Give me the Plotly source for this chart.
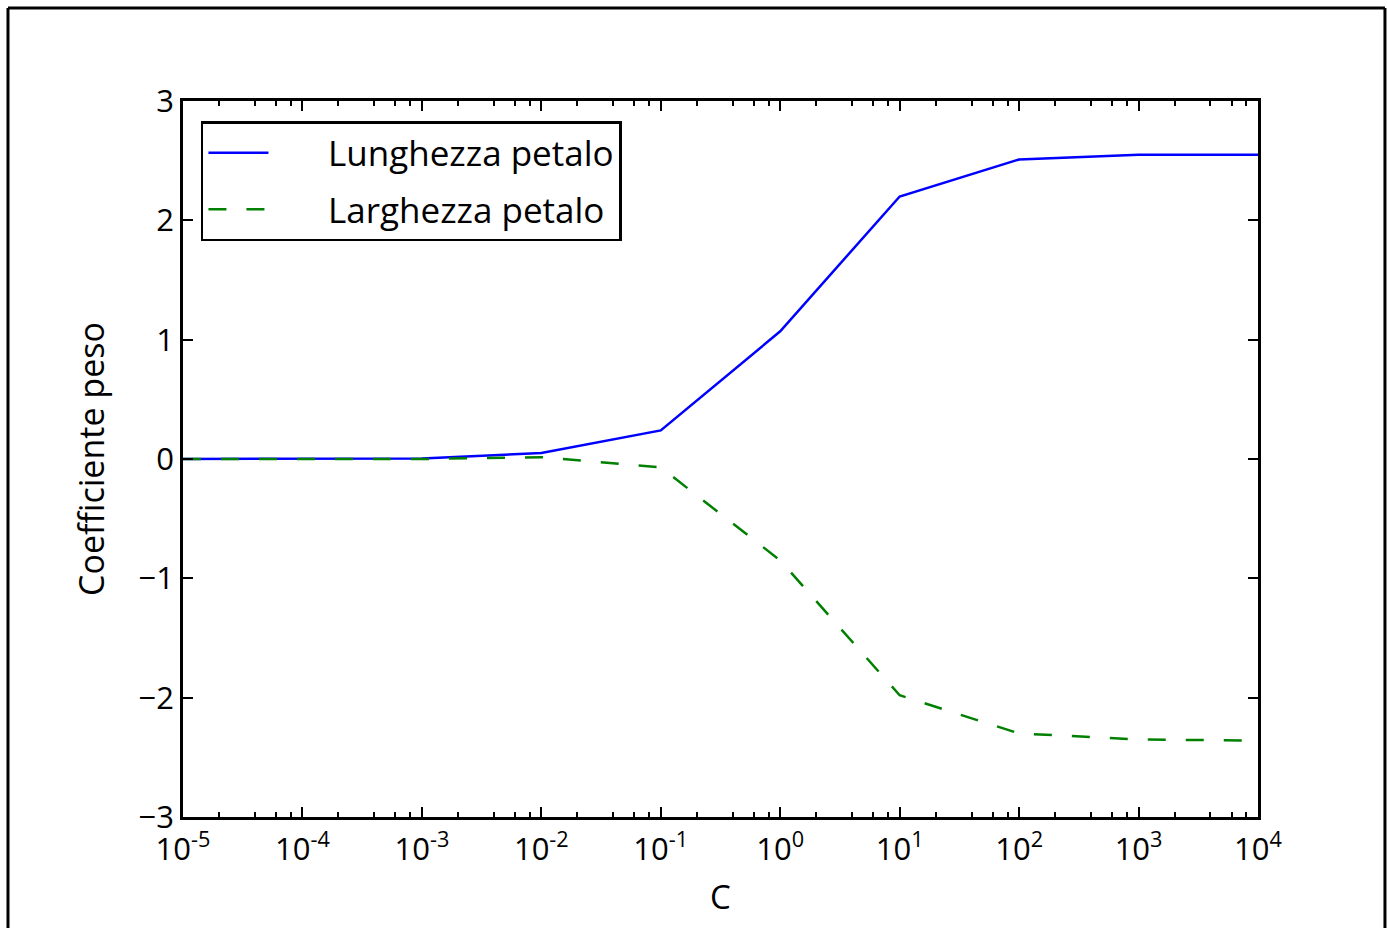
import plotly.graph_objects as go

C_values = [1e-5, 1e-4, 1e-3, 1e-2, 1e-1, 1e0, 1e1, 1e2, 1e3, 1e4]
lunghezza = [0.0, 0.0, 0.005, 0.05, 0.24, 1.07, 2.20, 2.51, 2.55, 2.55]
larghezza = [0.0, 0.0, 0.0, 0.015, -0.07, -0.85, -1.98, -2.30, -2.35, -2.36]

x_tick_vals = [1e-5, 1e-4, 1e-3, 1e-2, 1e-1, 1e0, 1e1, 1e2, 1e3, 1e4]
x_tick_text = ["10<sup>-5</sup>", "10<sup>-4</sup>", "10<sup>-3</sup>", "10<sup>-2</sup>",
               "10<sup>-1</sup>", "10<sup>0</sup>", "10<sup>1</sup>", "10<sup>2</sup>",
               "10<sup>3</sup>", "10<sup>4</sup>"]
y_tick_vals = [-3, -2, -1, 0, 1, 2, 3]
y_tick_text = ["\u22123", "\u22122", "\u22121", "0", "1", "2", "3"]

minor_vals = [d * m for d in x_tick_vals[:-1] for m in (2, 4, 6, 8)]

FONT = "Open Sans, DejaVu Sans, sans-serif"
PAD = "\u00a0\u00a0\u00a0\u00a0\u00a0\u00a0"

fig = go.Figure()
fig.add_trace(go.Scatter(x=C_values, y=lunghezza, mode="lines", name=PAD + "Lunghezza petalo",
                         line=dict(color="#0000ff", width=2.5), legendgroup="a"))
fig.add_trace(go.Scatter(x=C_values, y=larghezza, mode="lines", name=PAD + "Larghezza petalo",
                         line=dict(color="#008000", width=2.5, dash="18px,20px"), legendgroup="b"))

axis_common = dict(showgrid=False, zeroline=False, showline=True, linecolor="black", linewidth=2.5,
                   mirror="ticks", ticks="inside", ticklen=10, tickwidth=1.5, tickcolor="black",
                   tickfont=dict(family=FONT, size=31, color="black"))

fig.update_xaxes(type="log", range=[-5, 4], tickmode="array", tickvals=x_tick_vals, ticktext=x_tick_text,
                 minor=dict(tickmode="array", tickvals=minor_vals, ticks="inside", ticklen=5,
                            tickwidth=1.5, tickcolor="black", showgrid=False),
                 title=dict(text="C", font=dict(family=FONT, size=33, color="black"), standoff=18),
                 ticklabelstandoff=3,
                 **axis_common)
fig.update_yaxes(range=[-3, 3], tickmode="array", tickvals=y_tick_vals, ticktext=y_tick_text,
                 title=dict(text="Coefficiente peso", font=dict(family=FONT, size=34, color="black"), standoff=24),
                 **axis_common)

fig.update_layout(
    width=1388, height=928,
    margin=dict(l=183, r=130, t=101, b=111),
    paper_bgcolor="white", plot_bgcolor="white",
    font=dict(family=FONT, color="black"),
    showlegend=True,
    legend=dict(x=0.0167, y=0.972, xanchor="left", yanchor="top",
                bgcolor="white", bordercolor="black", borderwidth=2.5,
                font=dict(family=FONT, size=35, color="black"),
                tracegroupgap=8, itemwidth=60),
    shapes=[
        dict(type="line", xref="paper", yref="paper", x0=-0.1628, x1=-0.1628, y0=-0.2, y1=1.1299,
             line=dict(color="black", width=3)),
        dict(type="line", xref="paper", yref="paper", x0=-0.1628, x1=1.1181, y0=1.1299, y1=1.1299,
             line=dict(color="black", width=3)),
        dict(type="line", xref="paper", yref="paper", x0=1.1181, x1=1.1181, y0=-0.2, y1=1.1299,
             line=dict(color="black", width=3)),
    ],
)

fig.write_html("out.html")
